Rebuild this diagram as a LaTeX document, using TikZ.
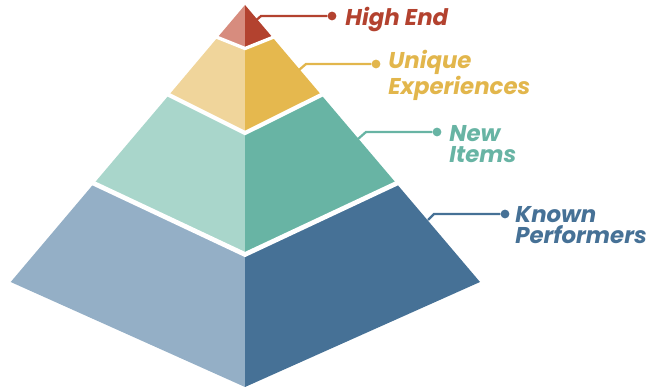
\documentclass[tikz,border=0pt]{standalone}
\usepackage{fontspec}
\setmainfont{Poppins}
\usetikzlibrary{calc}
\begin{document}
\begin{tikzpicture}[x=0.02cm,y=-0.02cm,
  gapline/.style={white,line width=2.4pt,line join=miter},
  conn/.style={line width=1.3pt},
  dotnode/.style={circle,fill,inner sep=0pt,minimum size=5pt},
  lbl/.style={anchor=base west,inner sep=0pt,align=left,font=\fontsize{13}{12.5}\selectfont\bfseries\itshape}]
\definecolor{redD}{HTML}{B3422F}
\definecolor{redL}{HTML}{D78C7E}
\definecolor{yelD}{HTML}{E5B84E}
\definecolor{yelL}{HTML}{F0D59B}
\definecolor{yelT}{HTML}{E2B64C}
\definecolor{teaD}{HTML}{68B4A4}
\definecolor{teaL}{HTML}{A9D6CB}
\definecolor{bluD}{HTML}{467196}
\definecolor{bluL}{HTML}{94AFC6}
\useasboundingbox (0,0) rectangle (650,388);
% key points
\coordinate (A) at (245,5);
\coordinate (L1) at (217.5,37.5); \coordinate (C1) at (245,48.5); \coordinate (R1) at (272.6,37.5);
\coordinate (L2) at (169,95);     \coordinate (C2) at (245,133);  \coordinate (R2) at (321.3,95);
\coordinate (L3) at (94,183.5);   \coordinate (C3) at (245,254.5);\coordinate (R3) at (396.4,183.5);
\coordinate (L4) at (10.7,282);   \coordinate (C4) at (245,387);  \coordinate (R4) at (480,282);
% faces
\fill[redL] (A) -- (L1) -- (C1) -- cycle;
\fill[redD] (A) -- (C1) -- (R1) -- cycle;
\fill[yelL] (L1) -- (C1) -- (C2) -- (L2) -- cycle;
\fill[yelD] (C1) -- (R1) -- (R2) -- (C2) -- cycle;
\fill[teaL] (L2) -- (C2) -- (C3) -- (L3) -- cycle;
\fill[teaD] (C2) -- (R2) -- (R3) -- (C3) -- cycle;
\fill[bluL] (L3) -- (C3) -- (C4) -- (L4) -- cycle;
\fill[bluD] (C3) -- (R3) -- (R4) -- (C4) -- cycle;
% white gaps
\draw[gapline,line width=1.9pt] ($(L1)+(-4,-1.6)$) -- (C1) -- ($(R1)+(4,-1.6)$);
\draw[gapline] ($(L2)+(-4,-2)$) -- (C2) -- ($(R2)+(4,-2)$);
\draw[gapline,line width=2.7pt] ($(L3)+(-4,-1.9)$) -- (C3) -- ($(R3)+(4,-1.9)$);
% connectors
\coordinate (s1) at (253,23); \coordinate (e1) at (261,16);
\node[dotnode,redD] (d1) at (332,16) {};
\draw[conn,redD] (s1) -- (e1) -- (d1);
\node[lbl,text=redD] (t1) at (345,26) {High End};
\coordinate (s2) at (299,70); \coordinate (e2) at (306,64);
\node[dotnode,yelT] (d2) at (376,64) {};
\draw[conn,yelT] (s2) -- (e2) -- (d2);
\node[lbl,text=yelT] (t2) at (388,95) {Unique\\Experiences};
\coordinate (s3) at (358,139); \coordinate (e3) at (366,132);
\node[dotnode,teaD] (d3) at (437,132) {};
\draw[conn,teaD] (s3) -- (e3) -- (d3);
\node[lbl,text=teaD] (t3) at (449,163) {New\\Items};
\coordinate (s4) at (428,220); \coordinate (e4) at (434,214);
\node[dotnode,bluD] (d4) at (505,214) {};
\draw[conn,bluD] (s4) -- (e4) -- (d4);
\node[lbl,text=bluD] (t4) at (515,244) {Known\\Performers};
\end{tikzpicture}
\end{document}
